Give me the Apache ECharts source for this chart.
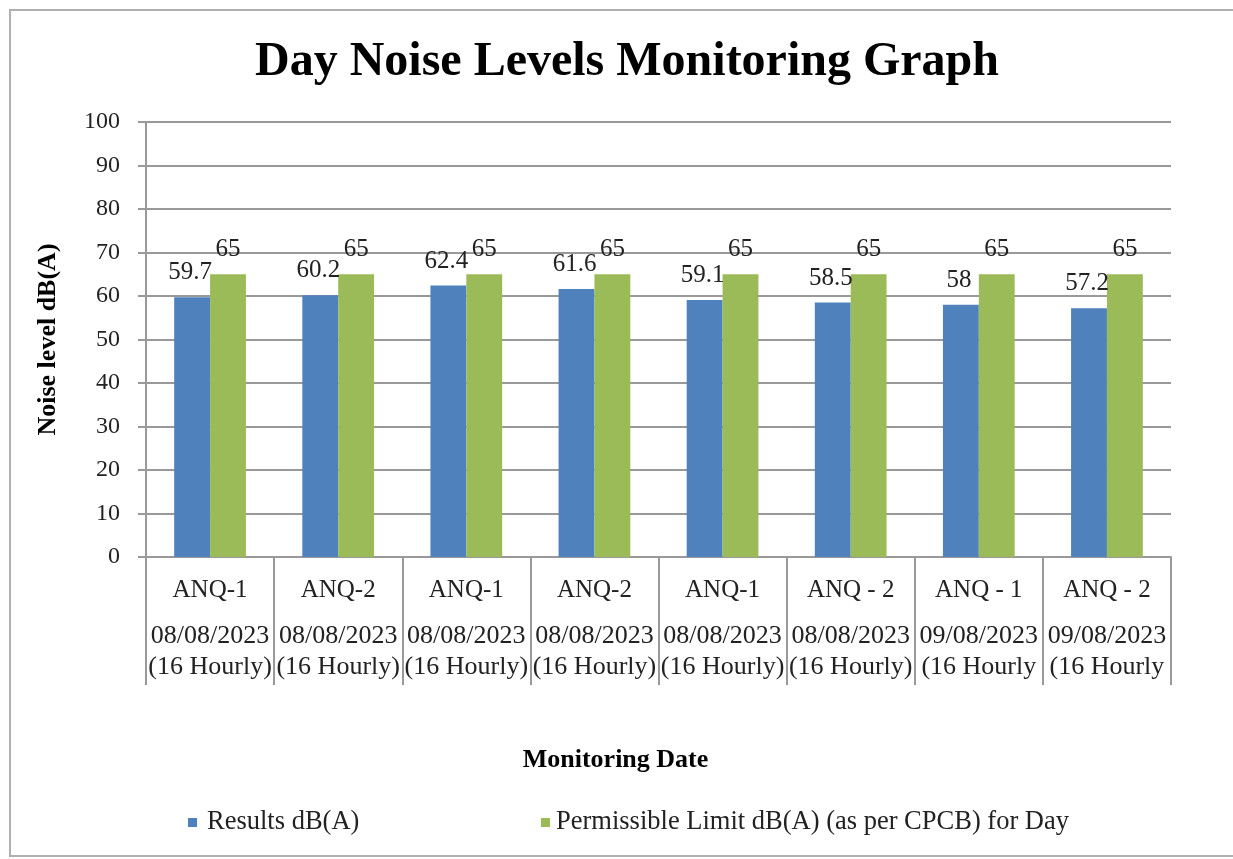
<!DOCTYPE html>
<html>
<head>
<meta charset="utf-8">
<script src="https://cdn.jsdelivr.net/npm/echarts@6/dist/echarts.min.js"></script>
<style>
  html, body { margin: 0; padding: 0; background: #fff; }
  #chart { width: 1233px; height: 859px; }
</style>
</head>
<body>
<div id="chart"></div>
<script>
// 数据
var sites = ['ANQ-1', 'ANQ-2', 'ANQ-1', 'ANQ-2', 'ANQ-1', 'ANQ - 2', 'ANQ - 1', 'ANQ - 2'];
var dates = ['08/08/2023', '08/08/2023', '08/08/2023', '08/08/2023', '08/08/2023', '08/08/2023', '09/08/2023', '09/08/2023'];
var periods = ['(16 Hourly)', '(16 Hourly)', '(16 Hourly)', '(16 Hourly)', '(16 Hourly)', '(16 Hourly)', '(16 Hourly', '(16 Hourly'];
var results = [59.7, 60.2, 62.4, 61.6, 59.1, 58.5, 58, 57.2];
var limits = [65, 65, 65, 65, 65, 65, 65, 65];

var categories = sites.map(function (s, i) { return i; });
var serif = '"Liberation Serif", "Times New Roman", serif';

var myChart = echarts.init(document.getElementById('chart'));

var option = {
    animation: false,
    backgroundColor: '#fff',
    color: ['#4F81BD', '#9BBB59'],
    title: {
        text: 'Day Noise Levels Monitoring Graph',
        left: 250,
        top: 34,
        textStyle: { fontFamily: serif, fontSize: 48, fontWeight: 'bold', color: '#000' }
    },
    graphic: [{
        type: 'rect',
        shape: { x: 10, y: 10, width: 1240, height: 846 },
        style: { fill: 'none', stroke: '#b0b0b0', lineWidth: 2 },
        silent: true
    }],
    legend: [{
        data: ['Results dB(A)'],
        left: 183, top: 804,
        itemWidth: 9, itemHeight: 9,
        icon: 'rect',
        textStyle: { fontFamily: serif, fontSize: 26.5, color: '#222', padding: [0, 0, 0, 5] }
    }, {
        data: ['Permissible Limit dB(A) (as per CPCB) for Day'],
        left: 536, top: 804,
        itemWidth: 9, itemHeight: 9,
        icon: 'rect',
        textStyle: { fontFamily: serif, fontSize: 26.5, color: '#222', padding: [0, 0, 0, 1] }
    }],
    grid: { left: 146, right: 62, top: 122, bottom: 302 },
    xAxis: {
        type: 'category',
        data: categories,
        name: 'Monitoring Date',
        nameLocation: 'middle',
        nameGap: 190,
        nameTextStyle: { fontFamily: serif, fontSize: 26, fontWeight: 'bold', color: '#000', padding: [0, 86, 0, 0] },
        axisLine: { lineStyle: { color: '#999', width: 2 } },
        axisTick: { show: true, interval: 0, alignWithLabel: false, length: 128, lineStyle: { color: '#999', width: 2 } },
        axisLabel: {
            margin: 2,
            interval: 0,
            formatter: function (v) {
                var i = +v;
                return '{a|' + sites[i] + '}\n{b|' + dates[i] + '}\n{b|' + periods[i] + '}';
            },
            rich: {
                a: { fontFamily: serif, fontSize: 25, color: '#222', lineHeight: 62 },
                b: { fontFamily: serif, fontSize: 26, color: '#222', lineHeight: 31 }
            }
        }
    },
    yAxis: {
        type: 'value',
        min: 0, max: 100, interval: 10,
        name: 'Noise level dB(A)',
        nameLocation: 'middle',
        nameGap: 85,
        nameRotate: 90,
        nameTextStyle: { fontFamily: serif, fontSize: 26, fontWeight: 'bold', color: '#000' },
        axisLine: { show: true, lineStyle: { color: '#999', width: 2 } },
        axisTick: { show: true, length: 8, lineStyle: { color: '#999', width: 2 } },
        axisLabel: { margin: 26, fontFamily: serif, fontSize: 24, color: '#222' },
        splitLine: { lineStyle: { color: '#999', width: 2 } }
    },
    series: [{
        name: 'Results dB(A)',
        type: 'bar',
        data: results,
        barGap: 0,
        barCategoryGap: '44%',
        label: { show: true, position: 'top', distance: 12, offset: [-2, 0], fontFamily: serif, fontSize: 25, color: '#222' }
    }, {
        name: 'Permissible Limit dB(A) (as per CPCB) for Day',
        type: 'bar',
        data: limits,
        barGap: 0,
        barCategoryGap: '44%',
        label: { show: true, position: 'top', distance: 12, fontFamily: serif, fontSize: 25, color: '#222' }
    }]
};

myChart.setOption(option);
</script>
</body>
</html>
